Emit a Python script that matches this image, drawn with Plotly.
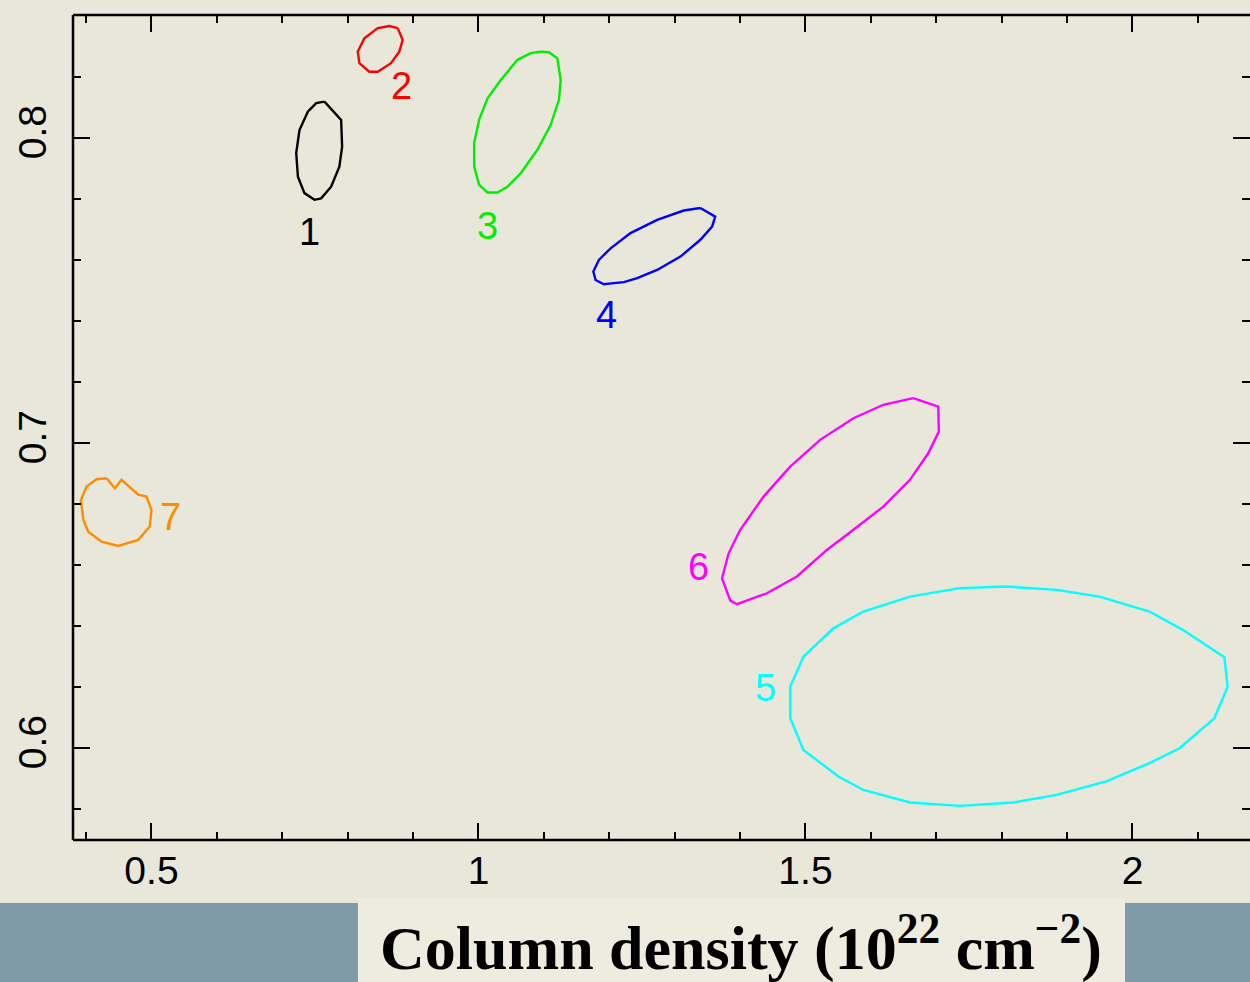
import plotly.graph_objects as go

# Confidence contours in the (column density, y) plane, one per source
c1_x = [0.7645, 0.7900, 0.7915, 0.7873, 0.7747, 0.7594, 0.7492, 0.7339, 0.7239, 0.7213, 0.7263, 0.7391, 0.7518]
c1_y = [0.8119, 0.8059, 0.7971, 0.7906, 0.7840, 0.7802, 0.7797, 0.7819, 0.7873, 0.7950, 0.8026, 0.8086, 0.8114]

c2_x = [0.8765, 0.8841, 0.8789, 0.8662, 0.8460, 0.8331, 0.8179, 0.8154, 0.8255, 0.8460, 0.8637]
c2_y = [0.8360, 0.8321, 0.8283, 0.8245, 0.8217, 0.8217, 0.8245, 0.8283, 0.8327, 0.8360, 0.8367]

c3_x = [1.0951, 1.1078, 1.1206, 1.1257, 1.1231, 1.1104, 1.0901, 1.0646, 1.0443, 1.0291,
        1.0138, 1.0010, 0.9934, 0.9934, 1.0010, 1.0138, 1.0341, 1.0596, 1.0799]
c3_y = [0.8283, 0.8281, 0.8261, 0.8190, 0.8125, 0.8043, 0.7961, 0.7884, 0.7840, 0.7821,
        0.7821, 0.7846, 0.7906, 0.7983, 0.8059, 0.8130, 0.8190, 0.8256, 0.8278]

c4_x = [1.3393, 1.3620, 1.3572, 1.3393, 1.3088, 1.2732, 1.2427, 1.2223, 1.2070, 1.1917,
        1.1791, 1.1756, 1.1841, 1.2020, 1.2325, 1.2732, 1.3138]
c4_y = [0.7770, 0.7742, 0.7709, 0.7666, 0.7611, 0.7567, 0.7540, 0.7527, 0.7524, 0.7520,
        0.7534, 0.7562, 0.7600, 0.7638, 0.7688, 0.7731, 0.7762]

c5_x = [1.7361, 1.8073, 1.8837, 1.9497, 2.0260, 2.0769, 2.1405, 2.1455, 2.1252, 2.0718,
        2.0260, 1.9599, 1.8837, 1.8174, 1.7361, 1.6598, 1.5885, 1.5504, 1.4969, 1.4767,
        1.4767, 1.4969, 1.5427, 1.5885, 1.6598]
c5_y = [0.6524, 0.6529, 0.6518, 0.6496, 0.6447, 0.6387, 0.6297, 0.6201, 0.6097, 0.5999,
        0.5950, 0.5890, 0.5846, 0.5821, 0.5810, 0.5821, 0.5862, 0.5906, 0.5993, 0.6097,
        0.6201, 0.6299, 0.6392, 0.6447, 0.6496]

c6_x = [1.6648, 1.7030, 1.7040, 1.6877, 1.6598, 1.6190, 1.5733, 1.5327, 1.4869, 1.4411,
        1.3953, 1.3851, 1.3724, 1.3825, 1.4003, 1.4359, 1.4766, 1.5224, 1.5733, 1.6190]
c6_y = [0.7147, 0.7119, 0.7037, 0.6966, 0.6879, 0.6791, 0.6715, 0.6649, 0.6562, 0.6507,
        0.6471, 0.6483, 0.6556, 0.6638, 0.6715, 0.6824, 0.6922, 0.7010, 0.7081, 0.7125]

c7_x = [0.4313, 0.4440, 0.4542, 0.4797, 0.4924, 0.5000, 0.4974, 0.4797, 0.4492, 0.4237,
        0.4034, 0.3958, 0.3921, 0.4008, 0.4161]
c7_y = [0.6884, 0.6851, 0.6879, 0.6830, 0.6824, 0.6780, 0.6726, 0.6682, 0.6662, 0.6676,
        0.6709, 0.6748, 0.6813, 0.6857, 0.6881]

source_names = ["1", "2", "3", "4", "5", "6", "7"]
source_colors = ["#000000", "#ff0000", "#00ee00", "#0000ff", "#00ffff", "#ff00ff", "#ff8c00"]
label_x = [0.7411, 0.8830, 1.0143, 1.1959, 1.4385, 1.3363, 0.5290]
label_y = [0.7692, 0.8170, 0.7711, 0.7420, 0.6197, 0.6593, 0.6757]

x_tickvals = [0.5, 1.0, 1.5, 2.0]
x_ticktext = ["0.5", "1", "1.5", "2"]
y_tickvals = [0.6, 0.7, 0.8]
y_ticktext = ["0.6", "0.7", "0.8"]

contours_x = [c1_x, c2_x, c3_x, c4_x, c5_x, c6_x, c7_x]
contours_y = [c1_y, c2_y, c3_y, c4_y, c5_y, c6_y, c7_y]

PAPER = "#e9e7da"
BAND = "#7f9ba7"
BOX = "#eeecdf"

fig = go.Figure()
for name, col, xs, ys in zip(source_names, source_colors, contours_x, contours_y):
    fig.add_trace(go.Scatter(
        x=xs + xs[:1], y=ys + ys[:1], mode="lines", name=name,
        line=dict(color=col, width=2.4), showlegend=False, hoverinfo="skip",
    ))

for name, col, lx, ly in zip(source_names, source_colors, label_x, label_y):
    fig.add_annotation(x=lx, y=ly, text=name, showarrow=False,
                       font=dict(family="Liberation Sans, Arial", size=38, color=col),
                       xanchor="center", yanchor="middle")

# Frame lines are drawn as shapes so the right edge stays open (it runs off the page)
axis_common = dict(
    showgrid=False, zeroline=False, showline=False,
    ticks="inside", tickwidth=2, ticklen=17, tickcolor="black", mirror="allticks",
    tickfont=dict(family="Liberation Sans, Arial", size=39, color="black"),
)

fig.update_xaxes(
    range=[0.380, 2.1797], tickvals=x_tickvals, ticktext=x_ticktext,
    ticklabelstandoff=4,
    minor=dict(dtick=0.1, tick0=0, ticks="inside", ticklen=8, tickwidth=2, tickcolor="black"),
    **axis_common,
)
fig.update_yaxes(
    range=[0.5698, 0.8403], tickvals=y_tickvals, ticktext=y_ticktext, tickangle=-90,
    ticklabelstandoff=18,
    minor=dict(dtick=0.02, tick0=0, ticks="inside", ticklen=8, tickwidth=2, tickcolor="black"),
    **axis_common,
)

frame = dict(type="line", xref="paper", yref="paper", line=dict(color="black", width=2.5))
fig.add_shape(x0=0, x1=1, y0=0, y1=0, **frame)
fig.add_shape(x0=0, x1=1, y0=1, y1=1, **frame)
fig.add_shape(x0=0, x1=0, y0=0, y1=1, **frame)

# Slate band along the bottom with a pale box holding the axis caption
fig.add_shape(type="rect", xref="paper", yref="paper",
              x0=-0.07, x1=1.01, y0=-0.18, y1=-0.0764,
              fillcolor=BAND, line=dict(width=0), layer="below")
fig.add_shape(type="rect", xref="paper", yref="paper",
              x0=0.2421, x1=0.8938, y0=-0.18, y1=-0.0703,
              fillcolor=BOX, line=dict(width=0), layer="below")
fig.add_annotation(
    xref="paper", yref="paper", x=0.5675, y=-0.1250,
    text="<b>Column density (10<sup>22</sup> cm<sup>\u22122</sup>)</b>",
    showarrow=False, xanchor="center", yanchor="middle",
    font=dict(family="Liberation Serif, Times New Roman, serif", size=62, color="black"),
)

fig.update_layout(
    width=1250, height=982,
    margin=dict(l=73, r=0, t=15, b=142),
    paper_bgcolor=PAPER, plot_bgcolor=PAPER,
    showlegend=False,
)

fig.write_html("out.html")
